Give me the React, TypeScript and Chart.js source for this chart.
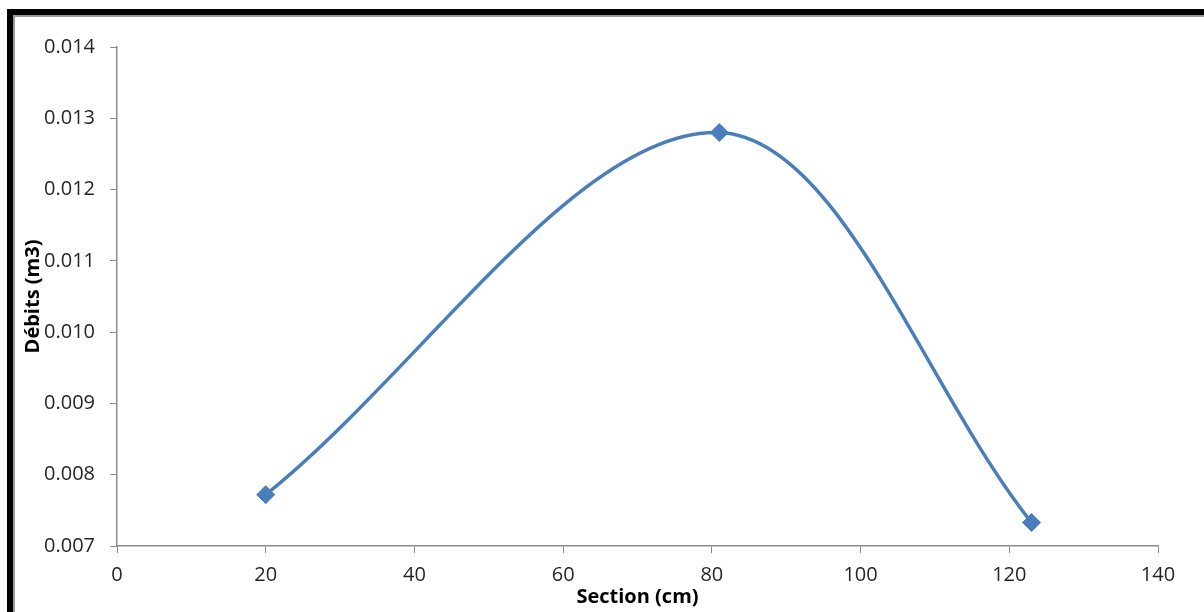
import React, { useEffect, useRef } from "react";
import { Chart, registerables } from "chart.js";

Chart.register(...registerables);

const sections: number[] = [20, 81, 123];
const debits: number[] = [0.00772, 0.0128, 0.00733];
const xTitle = "Section (cm)";
const yTitle = "Débits (m3)";

const LINE_COLOR = "#4A7EBB";
const AXIS_COLOR = "#8C8C8C";
const TEXT_COLOR = "#262626";
const FONT = "'Open Sans', 'Noto Sans', sans-serif";

const titlePlugin = {
  id: "axisTitles",
  afterDraw(chart: any) {
    const { ctx, chartArea } = chart;
    ctx.save();
    ctx.fillStyle = "#000";
    ctx.font = `bold 20px ${FONT}`;
    ctx.textAlign = "center";
    ctx.textBaseline = "middle";
    ctx.fillText(xTitle, (chartArea.left + chartArea.right) / 2, 597);
    ctx.translate(33, (chartArea.top + chartArea.bottom) / 2);
    ctx.rotate(-Math.PI / 2);
    ctx.fillText(yTitle, 0, 0);
    ctx.restore();
  },
};

export default function App() {
  const ref = useRef<HTMLCanvasElement | null>(null);

  useEffect(() => {
    if (!ref.current) return;
    const chart = new Chart(ref.current, {
      type: "line",
      data: {
        datasets: [
          {
            data: sections.map((x, i) => ({ x, y: debits[i] })),
            borderColor: LINE_COLOR,
            backgroundColor: LINE_COLOR,
            borderWidth: 3.5,
            tension: 0.34,
            pointStyle: "rectRot",
            pointRadius: 9,
            pointBorderWidth: 1,
            pointBackgroundColor: LINE_COLOR,
            pointBorderColor: LINE_COLOR,
            fill: false,
          },
        ],
      },
      options: {
        animation: false,
        responsive: false,
        devicePixelRatio: 1,
        layout: { padding: { top: 47, right: 46, bottom: 0, left: 0 } },
        plugins: {
          legend: { display: false },
          tooltip: { enabled: false },
        },
        scales: {
          x: {
            type: "linear",
            min: 0,
            max: 140,
            ticks: {
              stepSize: 20,
              padding: 10,
              color: TEXT_COLOR,
              font: { family: FONT, size: 20 },
            },
            grid: {
              drawOnChartArea: false,
              drawTicks: true,
              tickLength: 7,
              color: AXIS_COLOR,
            },
            border: { display: true, color: AXIS_COLOR, width: 1.5 },
            afterFit: (scale: any) => {
              scale.height = 66;
            },
          },
          y: {
            type: "linear",
            min: 0.007,
            max: 0.014,
            ticks: {
              stepSize: 0.001,
              padding: 15,
              color: TEXT_COLOR,
              font: { family: FONT, size: 20 },
              callback: (v: any) => Number(v).toFixed(3),
            },
            grid: {
              drawOnChartArea: false,
              drawTicks: true,
              tickLength: 7,
              color: AXIS_COLOR,
            },
            border: { display: true, color: AXIS_COLOR, width: 1.5 },
            afterFit: (scale: any) => {
              scale.width = 117;
            },
          },
        },
      },
      plugins: [titlePlugin],
    });
    return () => chart.destroy();
  }, []);

  return (
    <div
      style={{
        position: "fixed",
        left: 0,
        top: 0,
        width: 1204,
        height: 612,
        overflow: "hidden",
        background: "#fff",
      }}
    >
      <canvas
        ref={ref}
        width={1204}
        height={612}
        style={{ position: "absolute", left: 0, top: 0, width: 1204, height: 612 }}
      />
      <div
        style={{
          position: "absolute",
          left: 7,
          top: 9,
          width: 1400,
          height: 800,
          borderLeft: "6px solid #000",
          borderTop: "6px solid #000",
          boxShadow: "inset 2px 2px 0 #9a9a9a",
          pointerEvents: "none",
        }}
      />
    </div>
  );
}
